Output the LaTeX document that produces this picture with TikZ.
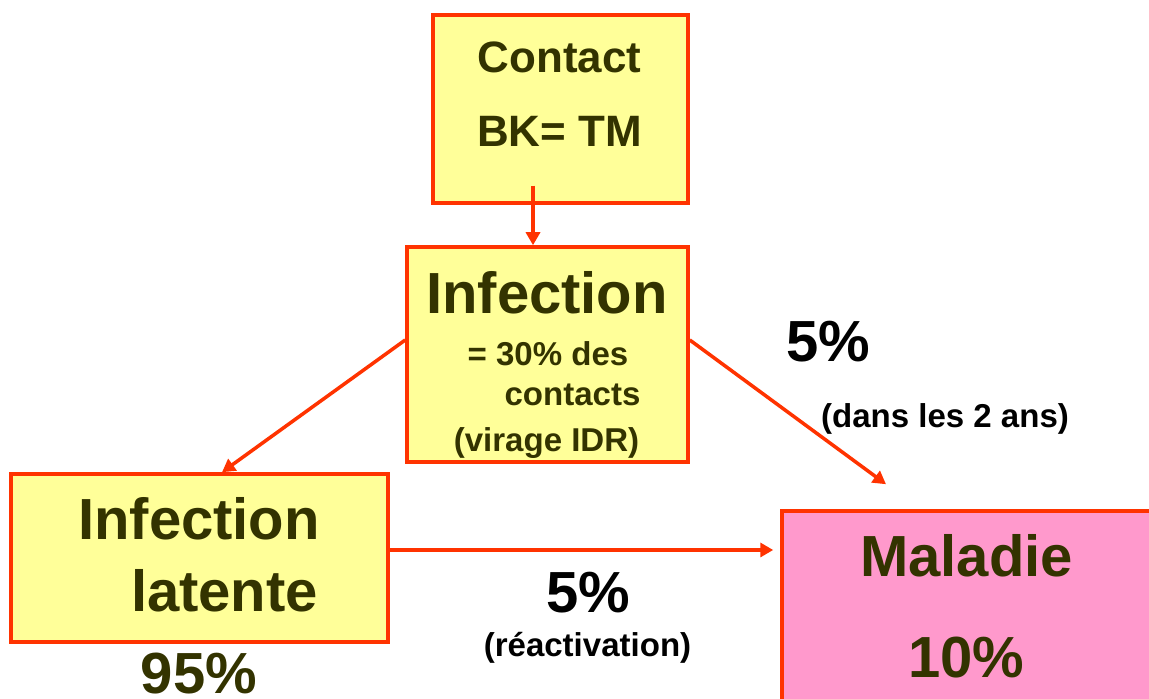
\documentclass[tikz,border=0pt]{standalone}
\usepackage{fontspec}
\setmainfont{Liberation Sans}
\usetikzlibrary{arrows.meta}
\definecolor{boxred}{HTML}{FF3300}
\definecolor{boxyellow}{HTML}{FFFF99}
\definecolor{boxpink}{HTML}{FF99CC}
\definecolor{darkolive}{HTML}{333300}
\tikzset{
  box/.style={draw=boxred, line width=2pt, inner sep=0pt},
  link/.style={draw=boxred, line width=2pt, -{Triangle[length=0.26cm,width=0.28cm]}},
  big/.style={font=\bfseries\fontsize{33}{40}\selectfont, anchor=base},
  mid/.style={font=\bfseries\fontsize{25}{30}\selectfont, anchor=base},
  small/.style={font=\bfseries\fontsize{18.8}{22}\selectfont, anchor=base}
}
\begin{document}
\begin{tikzpicture}
                        \clip (0, 0) rectangle (22.98, 13.98);
                        \node [box, fill=boxyellow, minimum width=5.1cm, minimum height=3.76cm] (contact) at (11.21, 11.8){};
                        \node [box, fill=boxyellow, minimum width=5.62cm, minimum height=4.3cm] (infect) at (10.95, 6.89){};
                        \node [box, fill=boxyellow, minimum width=7.54cm, minimum height=3.36cm] (latent) at (3.99, 2.82){};
                        \node [box, fill=boxpink, minimum width=7.76cm, minimum height=4.18cm] (ill) at (19.52, 1.67){};
                        \node [mid, text=darkolive] (contacttxt) at (11.19, 12.52){Contact};
                        \node [mid, text=darkolive] (bktxt) at (11.19, 11.04){BK= TM};
                        \node [big, text=darkolive] (infecttxt) at (10.94, 7.70){Infection};
                        \node [small, text=darkolive] (pcttxt) at (10.96, 6.66){= 30\% des};
                        \node [small, text=darkolive] (contactstxt) at (11.45, 5.86){contacts};
                        \node [small, text=darkolive] (idrtxt) at (10.93, 4.94){(virage IDR)};
                        \node [big, text=darkolive] (latenttxt) at (3.98, 3.18){Infection};
                        \node [big, text=darkolive] (latenttxtb) at (4.49, 1.74){latente};
                        \node [big, text=darkolive] (latentpct) at (3.98, 0.1){95\%};
                        \node [big, text=darkolive] (illtxt) at (19.33, 2.44){Maladie};
                        \node [big, text=darkolive] (illpct) at (19.33, 0.42){10\%};
                        \node [big] (earlypct) at (16.57, 6.74){5\%};
                        \node [small] (earlytxt) at (18.9, 5.42){(dans les 2 ans)};
                        \node [big] (reactpct) at (11.76, 1.72){5\%};
                        \node [small] (reacttxt) at (11.75, 0.84){(réactivation)};
                        \coordinate (r) at ([yshift=0.16cm]latent.east);
                        \draw [link] ([xshift=-0.55cm, yshift=0.38cm]contact.south) -- ([xshift=-0.29cm]infect.north);
                        \draw [link] ([yshift=0.29cm]infect.west) -- ([xshift=0.45cm]latent.north);
                        \draw [link] ([yshift=0.29cm]infect.east) -- ([xshift=-1.8cm, yshift=0.5cm]ill.north);
                        \draw [link] (r) -- ([xshift=-0.14cm]r -| ill.west);
                    \end{tikzpicture}
\end{document}
